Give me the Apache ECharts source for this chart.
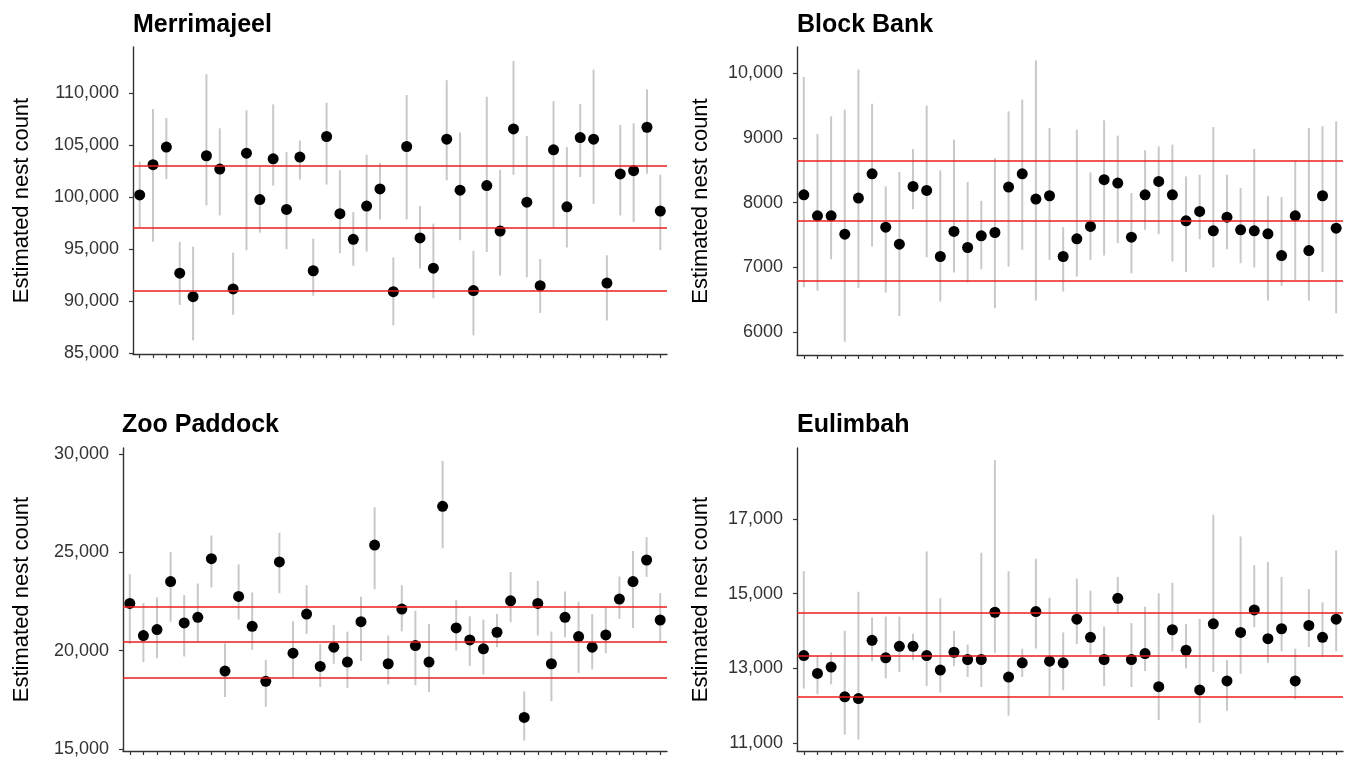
<!DOCTYPE html>
<html>
<head>
<meta charset="utf-8">
<title>Estimated nest count</title>
<script src="https://cdn.jsdelivr.net/npm/echarts@6/dist/echarts.min.js"></script>
<style>
    html, body { margin: 0; padding: 0; background: #fff; }
    #main { width: 1349px; height: 760px; }
</style>
</head>
<body>
<div id="main"></div>
<script>
// Merrimajeel
var merrEst = [100190, 103090, 104780, 92670, 90410, 103950, 102670, 91150, 104200, 99740, 103660, 98790, 103820, 92900, 105800, 98380, 95920, 99110, 100760, 90890, 104840, 96050, 93150, 105540, 100640, 90990, 101080, 96720, 106530, 99490, 91460, 104520, 99040, 105700, 105540, 91720, 102200, 102520, 106690, 98630];
var merrLo = [97040, 95700, 101720, 89620, 86210, 99170, 98220, 88660, 94870, 96560, 101080, 94970, 101660, 90510, 101180, 94590, 93370, 94740, 97830, 87640, 97830, 93120, 90250, 101590, 95830, 86690, 94710, 92420, 102130, 92260, 88850, 97040, 95130, 101910, 99330, 88120, 98220, 97580, 102230, 94870];
var merrHi = [103410, 108440, 107580, 95670, 95220, 111780, 106590, 94650, 108310, 102930, 108890, 104300, 105410, 95990, 109050, 102550, 98530, 104040, 103250, 94170, 109780, 99110, 97420, 111210, 106180, 94810, 109620, 102610, 113060, 105860, 94010, 109200, 104780, 108920, 112230, 94390, 106910, 107070, 110320, 102130];
var merrRef = [103000, 97000, 91000];
var merrTicks = [85000, 90000, 95000, 100000, 105000, 110000];

// Block Bank
var blockEst = [8121, 7797, 7797, 7514, 8070, 8445, 7622, 7359, 8250, 8188, 7169, 7555, 7308, 7488, 7539, 8239, 8445, 8054, 8106, 7169, 7442, 7632, 8353, 8301, 7467, 8121, 8327, 8121, 7719, 7864, 7565, 7776, 7580, 7565, 7519, 7184, 7797, 7261, 8106, 7606];
var blockLo = [6695, 6644, 7127, 5856, 6680, 7323, 6613, 6252, 7900, 7158, 6474, 6922, 6767, 6973, 6371, 7014, 7272, 6489, 7117, 6628, 6860, 7117, 7184, 7375, 6911, 7580, 7514, 7091, 6927, 7436, 6999, 7282, 7066, 6999, 6489, 6716, 6808, 6489, 6927, 6293];
var blockHi = [9938, 9058, 9331, 9434, 10051, 9526, 8250, 8471, 8826, 9496, 8497, 8970, 8317, 8028, 8687, 9408, 9588, 10195, 9151, 7622, 9125, 8466, 9269, 9032, 8147, 8806, 8867, 8893, 8404, 8430, 9166, 8430, 8224, 8826, 8106, 8085, 8651, 9151, 9177, 9254];
var blockRef = [8650, 7720, 6800];
var blockTicks = [6000, 7000, 8000, 9000, 10000];

// Zoo Paddock
var zooEst = [22401, 20766, 21069, 23513, 21407, 21693, 24675, 18963, 22755, 21238, 18441, 24507, 19873, 21861, 19199, 20177, 19418, 21474, 25366, 19334, 22114, 20261, 19418, 27338, 21154, 20547, 20092, 20935, 22535, 16604, 22401, 19334, 21693, 20716, 20177, 20800, 22620, 23513, 24608, 21558];
var zooLo = [20345, 19418, 19620, 21474, 19704, 20429, 23209, 17649, 21575, 20042, 17143, 22923, 18609, 20850, 18154, 19334, 18104, 19469, 23125, 18289, 20985, 18239, 17902, 25198, 20008, 19216, 18778, 20177, 21440, 15425, 20766, 17430, 20682, 18862, 19048, 19873, 21609, 21154, 23749, 20463];
var zooHi = [23884, 22418, 22704, 25012, 22822, 23412, 25855, 20379, 24389, 22957, 19536, 25990, 21491, 23327, 20345, 21305, 20968, 22738, 27287, 20766, 23327, 22030, 21356, 29646, 22569, 21744, 21575, 21861, 24001, 17935, 23547, 20968, 23007, 22485, 21861, 22198, 23766, 25063, 25771, 22923];
var zooRef = [22250, 20450, 18600];
var zooTicks = [15000, 20000, 25000, 30000];

// Eulimbah
var euliEst = [13345, 12867, 13035, 12239, 12194, 13752, 13283, 13593, 13593, 13345, 12956, 13433, 13239, 13239, 14504, 12770, 13150, 14522, 13195, 13150, 14318, 13832, 13239, 14876, 13239, 13398, 12513, 14035, 13487, 12425, 14195, 12664, 13965, 14566, 13796, 14062, 12664, 14150, 13832, 14318];
var euliLo = [12460, 12310, 12575, 11230, 11097, 13195, 12734, 12902, 13221, 12531, 12354, 13062, 12770, 12504, 13416, 11734, 12770, 13531, 12266, 12416, 13655, 13372, 12531, 14496, 12504, 12929, 11619, 13460, 13000, 11540, 12902, 11867, 12858, 14106, 13150, 13460, 12177, 13575, 13301, 13460];
var euliHi = [15602, 13327, 13433, 14009, 15053, 14363, 14389, 14389, 13929, 16133, 14876, 14009, 13637, 16097, 18575, 15602, 13531, 15938, 14894, 13965, 15407, 15080, 14124, 15451, 14212, 14655, 15009, 15292, 14195, 14327, 17115, 13221, 16531, 15761, 15850, 15451, 13531, 15124, 14770, 16159];
var euliRef = [14480, 13350, 12240];
var euliTicks = [11000, 13000, 15000, 17000];

var panels = [
    { title: 'Merrimajeel', est: merrEst, lo: merrLo, hi: merrHi, ref: merrRef, ticks: merrTicks,
      min: 84900, max: 114400, left: 133, top: 47, width: 534, height: 307, nameGap: 100, titleLeft: 133, titleTop: 13 },
    { title: 'Block Bank', est: blockEst, lo: blockLo, hi: blockHi, ref: blockRef, ticks: blockTicks,
      min: 5650, max: 10400, left: 797, top: 47, width: 546, height: 308, nameGap: 85, titleLeft: 797, titleTop: 13 },
    { title: 'Zoo Paddock', est: zooEst, lo: zooLo, hi: zooHi, ref: zooRef, ticks: zooTicks,
      min: 14900, max: 30300, left: 123, top: 448, width: 544, height: 304, nameGap: 90, titleLeft: 122, titleTop: 413 },
    { title: 'Eulimbah', est: euliEst, lo: euliLo, hi: euliHi, ref: euliRef, ticks: euliTicks,
      min: 10790, max: 18900, left: 797, top: 448, width: 546, height: 304, nameGap: 85, titleLeft: 797, titleTop: 413 }
];

function fmt(v) {
    // 4-digit values without separator, like the original
    if (v < 10000) return String(v);
    return String(v).replace(/\B(?=(\d{3})+(?!\d))/g, ',');
}

var myChart = echarts.init(document.getElementById('main'));
var option = {
    animation: false,
    backgroundColor: '#ffffff',
    textStyle: { fontFamily: 'Liberation Sans, Arial, sans-serif' },
    title: [],
    grid: [],
    xAxis: [],
    yAxis: [],
    series: []
};

panels.forEach(function (p, k) {
    var cats = p.est.map(function (d, i) { return String(i + 1); });

    option.title.push({
        text: p.title,
        left: p.titleLeft,
        top: p.titleTop,
        padding: 0,
        textStyle: { fontSize: 25, fontWeight: 'bold', color: '#000' }
    });
    option.grid.push({ left: p.left, top: p.top, width: p.width, height: p.height });
    option.xAxis.push({
        type: 'category',
        gridIndex: k,
        data: cats,
        boundaryGap: true,
        axisLine: { onZero: false, lineStyle: { color: '#333', width: 1.4 } },
        axisTick: { show: true, alignWithLabel: true, interval: 0, length: 4, lineStyle: { color: '#333', width: 1.2 } },
        // labels kept invisible so every tick is drawn
        axisLabel: { show: true, interval: 0, color: 'rgba(0,0,0,0)', fontSize: 1 },
        splitLine: { show: false }
    });
    option.yAxis.push({
        type: 'value',
        gridIndex: k,
        min: p.min,
        max: p.max,
        name: 'Estimated nest count',
        nameLocation: 'middle',
        nameGap: p.nameGap,
        nameTextStyle: { fontSize: 22, color: '#000' },
        axisLine: { show: true, lineStyle: { color: '#333', width: 1.4 } },
        axisTick: { show: true, length: 4, customValues: p.ticks, lineStyle: { color: '#333', width: 1.2 } },
        axisLabel: { fontSize: 18, color: '#333', margin: 14, customValues: p.ticks, formatter: fmt },
        splitLine: { show: false }
    });

    // error bars + reference lines
    option.series.push({
        type: 'custom',
        xAxisIndex: k,
        yAxisIndex: k,
        z: 2,
        encode: { x: 0, y: [1, 2] },
        data: p.est.map(function (d, i) { return [i, p.lo[i], p.hi[i]]; }),
        renderItem: function (params, api) {
            var a = api.coord([api.value(0), api.value(1)]);
            var b = api.coord([api.value(0), api.value(2)]);
            return {
                type: 'line',
                shape: { x1: a[0], y1: a[1], x2: b[0], y2: b[1] },
                style: { stroke: '#c9c9c9', lineWidth: 2 }
            };
        },
        markLine: {
            silent: true,
            symbol: 'none',
            label: { show: false },
            lineStyle: { color: '#ee1c1c', width: 1.6, type: 'solid' },
            data: p.ref.map(function (v) { return { yAxis: v }; })
        }
    });
    // estimates
    option.series.push({
        type: 'scatter',
        xAxisIndex: k,
        yAxisIndex: k,
        z: 3,
        symbol: 'circle',
        symbolSize: 11,
        itemStyle: { color: '#000', opacity: 1 },
        data: p.est
    });
});

myChart.setOption(option);
</script>
</body>
</html>
